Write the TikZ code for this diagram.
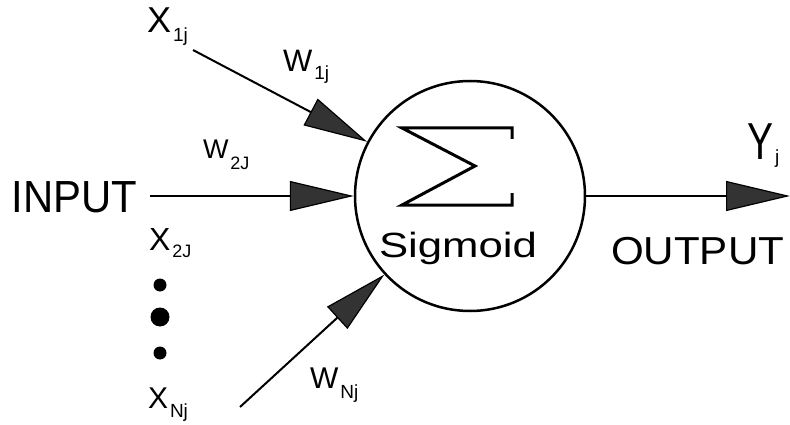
\documentclass[tikz,border=0pt]{standalone}
\usepackage{fontspec}
\usepackage{graphicx}
\setmainfont{Liberation Sans}
\usetikzlibrary{arrows.meta}
\newcommand\mylbl[5]{{\fontsize{#1}{#1}\selectfont #2}\hspace{2pt}\raisebox{-#5pt}{\fontsize{#3}{#3}\selectfont #4}}
\begin{document}
\begin{tikzpicture}[x=1pt,y=-1pt, line width=2pt,
  lbl/.style={inner sep=0pt, anchor=base west},
  wt/.style={-{Triangle[length=64pt,width=30pt,fill=black!80,line width=1.2pt]}},
  dot/.style={circle, fill=black, inner sep=0pt, minimum size=#1}]
\useasboundingbox (0,0) rectangle (790,425);
% neuron
\node[circle, draw, line width=2.5pt, minimum size=230pt, inner sep=0pt] (N) at (470,196) {};
\draw[line width=3pt, line join=miter] (512,139) -- (512,128) -- (402,128) -- (475,166) -- (402,205) -- (512,205) -- (512,193);
\node[lbl] (sig) at (378,257) {\scalebox{1.25}[1]{\fontsize{35}{35}\selectfont Sigmoid}};
% inputs
\coordinate (x1) at (193,50);
\coordinate (in) at (150,196);
\coordinate (xn) at (240,407);
\coordinate (out) at (790,196);
\draw[wt] (x1) -- (N);
\draw[wt] (in) -- (N);
\draw[wt] (xn) -- (N);
\draw[wt] (N) -- (out);
% labels
\node[lbl] (lx1) at (146,33) {\mylbl{36}{X}{19}{1j}{9}};
\node[lbl] (lw1) at (282,72) {\mylbl{31}{W}{19}{1j}{8}};
\node[lbl] (lw2) at (202,158) {\mylbl{27}{W}{18}{2J}{11}};
\node[lbl] (linput) at (11,212) {\scalebox{0.93}[1]{\fontsize{45}{45}\selectfont INPUT}};
\node[lbl] (lx2) at (148,250) {\mylbl{32}{X}{18}{2J}{7}};
\node[lbl] (lxn) at (147,408) {\mylbl{30}{X}{19}{Nj}{9}};
\node[lbl] (lwn) at (309,388) {\mylbl{30}{W}{19}{Nj}{10}};
\node[lbl] (ly) at (746,160) {\scalebox{0.75}[1]{\fontsize{52}{52}\selectfont Y}\hspace{2pt}\raisebox{-4pt}{\fontsize{19}{19}\selectfont j}};
\node[lbl] (lout) at (610,264) {\scalebox{1.08}[1]{\fontsize{39}{39}\selectfont OUTPUT}};
% dots
\node[dot=13pt] (d1) at (160,285) {};
\node[dot=19pt] (d2) at (160,317) {};
\node[dot=13pt] (d3) at (160,353) {};
\end{tikzpicture}
\end{document}
